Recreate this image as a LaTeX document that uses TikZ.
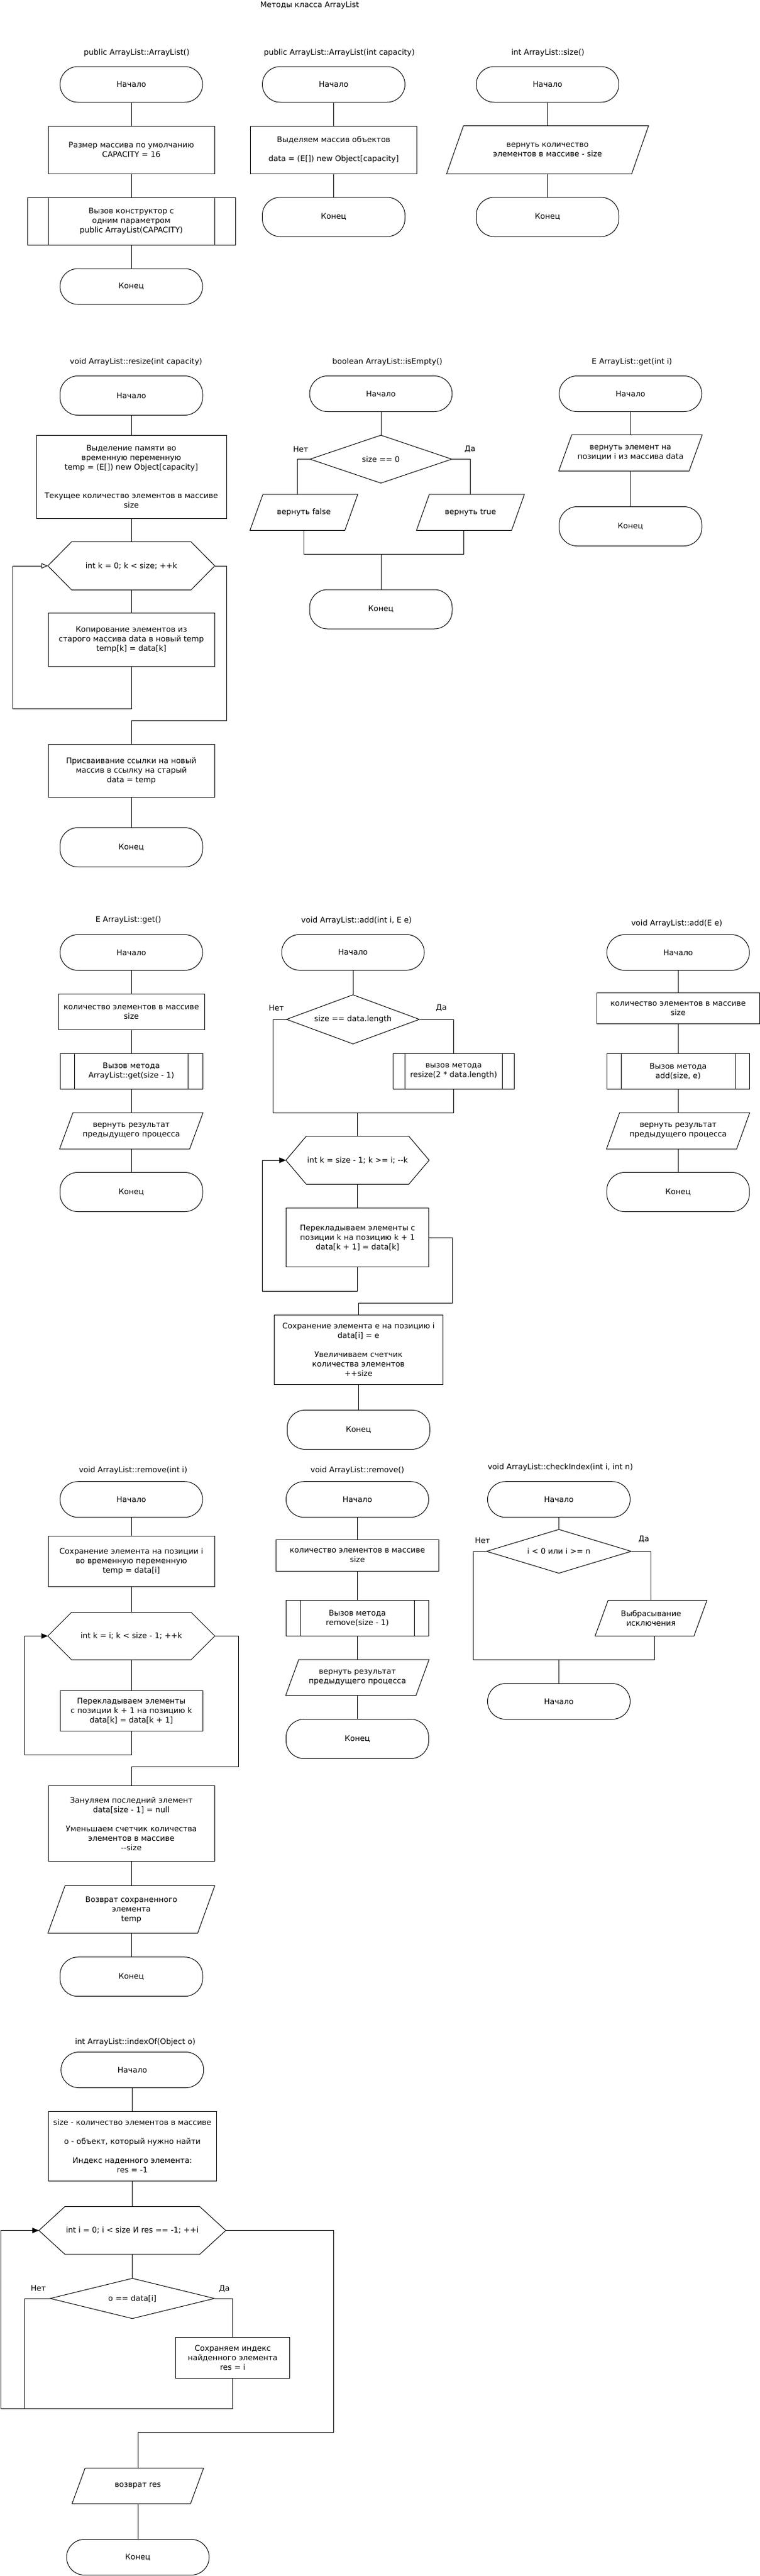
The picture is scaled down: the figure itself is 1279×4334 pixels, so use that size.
\documentclass[tikz,border=0pt]{standalone}
\usepackage{fontspec}
\setmainfont{DejaVu Sans}
\usetikzlibrary{shapes.geometric,arrows.meta}

% parallelogram and loop outlines round an invisible node
\newcommand{\drawio}[2]{\draw (#1.south west) -- ([xshift=#2]#1.north west) -- (#1.north east) -- ([xshift=-#2]#1.south east) -- cycle;}
\newcommand{\drawloop}[2]{\draw (#1.west) -- ([xshift=#2]#1.north west) -- ([xshift=-#2]#1.north east) -- (#1.east) -- ([xshift=-#2]#1.south east) -- ([xshift=#2]#1.south west) -- cycle;}

\tikzset{
  wh/.style 2 args={minimum width=#1pt, minimum height=#2pt},
  term/.style={draw, rectangle, rounded corners=30pt, wh={240}{60}, inner sep=0pt, align=center},
  proc/.style={draw, rectangle, inner sep=0pt, align=center},
  sub/.style={proc, path picture={\draw ([xshift=#1pt]path picture bounding box.north west) -- ([xshift=#1pt]path picture bounding box.south west) ([xshift=-#1pt]path picture bounding box.north east) -- ([xshift=-#1pt]path picture bounding box.south east);}},
  io/.style={rectangle, inner sep=0pt, align=center},
  cyc/.style={rectangle, inner sep=0pt, align=center},
  dec/.style={draw, diamond, aspect=3, inner sep=0pt, align=center},
  lbl/.style={inner sep=0pt},
  ttl/.style={inner sep=0pt},
  loopback/.style={-{Triangle[length=11pt,width=9pt]}},
  loopbackopen/.style={-{Triangle[open,length=11pt,width=9pt]}}
}

\begin{document}
\begin{tikzpicture}[x=1pt, y=-1pt, line width=1pt, font=\fontsize{13}{16}\selectfont]
  \path[use as bounding box, fill=white] (0,0) rectangle (1279,4334);

  \node[ttl] (head) at (521,9) {Методы класса ArrayList};

  % ArrayList()
  \node[ttl] (a1h) at (230,89) {public ArrayList::ArrayList()};
  \node[term] (a1s) at (221,142) {Начало};
  \node[proc, wh={280}{80}] (a1p) at (221,252) {Размер массива по умолчанию\\CAPACITY = 16};
  \node[sub=35, wh={350}{80}] (a1c) at (221,372) {Вызов конструктор с\\одним параметром\\public ArrayList(CAPACITY)};
  \node[term] (a1e) at (221,482) {Конец};
  \draw (a1s) -- (a1p) -- (a1c) -- (a1e);

  % ArrayList(int capacity)
  \node[ttl] (b1h) at (571,89) {public ArrayList::ArrayList(int capacity)};
  \node[term] (b1s) at (561.5,142) {Начало};
  \node[proc, wh={280}{80}] (b1p) at (561.5,252) {Выделяем массив объектов\\[16pt]data = (E[]) new Object[capacity]};
  \node[term, minimum height=66pt] (b1e) at (561.5,365) {Конец};
  \draw (b1s) -- (b1p) -- (b1e);

  % size()
  \node[ttl] (c1h) at (922,89) {int ArrayList::size()};
  \node[term] (c1s) at (921.5,142) {Начало};
  \node[io, wh={339}{80}] (c1o) at (921.5,252) {вернуть количество\\элементов в массиве - size};
  \drawio{c1o}{28.5}
  \node[term, minimum height=66pt] (c1e) at (921.5,365) {Конец};
  \draw (c1s) -- (c1o) -- (c1e);

  % resize(int capacity)
  \node[ttl] (r2h) at (229,609) {void ArrayList::resize(int capacity)};
  \node[term, minimum height=66pt] (r2s) at (221,665.5) {Начало};
  \node[proc, wh={320}{140}] (r2p) at (221,802) {Выделение памяти во\\временную переменную\\temp = (E[]) new Object[capacity]\\[32pt]Текущее количество элементов в массиве\\size};
  \node[cyc, wh={280}{80}] (r2l) at (221,952) {int k = 0; k < size; ++k};
  \drawloop{r2l}{40}
  \node[proc, wh={280}{90}] (r2b) at (221,1076.5) {Копирование элементов из\\старого массива data в новый temp\\temp[k] = data[k]};
  \node[proc, wh={280}{89}] (r2a) at (221,1297) {Присваивание ссылки на новый\\массив в ссылку на старый\\data = temp};
  \node[term, minimum height=66pt] (r2e) at (221,1425.5) {Конец};
  \draw (r2s) -- (r2p) -- (r2l) -- (r2b);
  \draw[loopbackopen] (r2b.south) -- ++(0,70) -- ++(-200,0) |- (r2l.west);
  \draw (r2l.east) -- ++(20,0) -- ++(0,260.4) -| (r2a.north);
  \draw (r2a) -- (r2e);

  % isEmpty()
  \node[ttl] (e2h) at (652,609) {boolean ArrayList::isEmpty()};
  \node[term] (e2s) at (641,662.5) {Начало};
  \node[dec, wh={239}{81}] (e2d) at (641,772.5) {size == 0};
  \node[lbl] (e2n) at (506,756) {Нет};
  \node[lbl] (e2y) at (791,756) {Да};
  \node[io, wh={180.4}{59.5}] (e2f) at (511.4,862) {вернуть false};
  \drawio{e2f}{21.7}
  \node[io, wh={180.5}{59.5}] (e2t) at (791.7,862) {вернуть true};
  \drawio{e2t}{21.5}
  \coordinate (e2m) at (641,932.4);
  \node[term, minimum height=66pt] (e2e) at (641,1025) {Конец};
  \draw (e2s) -- (e2d);
  \draw (e2d.west) -| ([xshift=-11]e2f.north);
  \draw (e2d.east) -| (e2t.north);
  \draw (e2f.south) -- ++(0,40.7) -| ([xshift=-11]e2t.south);
  \draw (e2m) -- (e2e);

  % get(int i)
  \node[ttl] (g2h) at (1063.5,609) {E ArrayList::get(int i)};
  \node[term] (g2s) at (1061,662.5) {Начало};
  \node[io, wh={240.5}{60}] (g2o) at (1061,762) {вернуть элемент на\\позиции i из массива data};
  \drawio{g2o}{22}
  \node[term, minimum height=66pt] (g2e) at (1061,885.5) {Конец};
  \draw (g2s) -- (g2o) -- (g2e);

  % get()
  \node[ttl] (g3h) at (216,1548) {E ArrayList::get()};
  \node[term] (g3s) at (221,1602.5) {Начало};
  \node[proc, wh={246}{60}] (g3p) at (221,1702.5) {количество элементов в массиве\\size};
  \node[sub=24.5, wh={240}{60}] (g3c) at (221,1802.5) {Вызов метода\\ArrayList::get(size - 1)};
  \node[io, wh={240.4}{60}] (g3o) at (221,1902.5) {вернуть результат\\предыдущего процесса};
  \drawio{g3o}{22.5}
  \node[term, minimum height=66pt] (g3e) at (221,2005.5) {Конец};
  \draw (g3s) -- (g3p) -- (g3c) -- (g3o) -- (g3e);

  % add(int i, E e)
  \node[ttl] (d3h) at (600,1548.5) {void ArrayList::add(int i, E e)};
  \node[term] (d3s) at (594,1602.3) {Начало};
  \node[dec, wh={224}{83}] (d3d) at (594,1715) {size == data.length};
  \node[lbl] (d3n) at (465,1695.5) {Нет};
  \node[lbl] (d3y) at (742.7,1695.5) {Да};
  \node[sub=20, wh={203.7}{60}] (d3r) at (763.5,1802.5) {вызов метода\\resize(2 * data.length)};
  \coordinate (d3m) at (601.7,1872.2);
  \node[cyc, wh={240}{80}] (d3l) at (601.7,1952) {int k = size - 1; k >= i; -{}-k};
  \drawloop{d3l}{34.3}
  \node[proc, wh={240.4}{98.7}] (d3b) at (601.7,2082.3) {Перекладываем элементы с\\позиции k на позицию k + 1\\data[k + 1] = data[k]};
  \node[proc, wh={284}{116.8}] (d3a) at (603.3,2270.7) {Сохранение элемента e на позицию i\\data[i] = e\\[16pt]Увеличиваем счетчик\\количества элементов\\++size};
  \node[term, minimum height=66pt] (d3e) at (603.3,2405.4) {Конец};
  \draw (d3s) -- (d3d);
  \draw (d3d.west) -- ++(-22.4,0) |- (d3r.south |- d3m);
  \draw (d3d.east) -| (d3r.north);
  \draw (d3r.south) -- (d3r.south |- d3m);
  \draw (d3m) -- (d3l) -- (d3b);
  \draw[loopback] (d3b.south) -- ++(0,40) -- ++(-160.4,0) |- (d3l.west);
  \draw (d3b.east) -- ++(39.3,0) -- ++(0,109.7) -| (d3a.north);
  \draw (d3a) -- (d3e);

  % add(E e)
  \node[ttl] (f3h) at (1138.8,1553.4) {void ArrayList::add(E e)};
  \node[term] (f3s) at (1141.2,1602.5) {Начало};
  \node[proc, wh={273.8}{52.2}] (f3p) at (1141.2,1696.6) {количество элементов в массиве\\size};
  \node[sub=24, wh={240}{60}] (f3c) at (1141.2,1802.5) {Вызов метода\\add(size, e)};
  \node[io, wh={240}{60}] (f3o) at (1141.2,1902.5) {вернуть результат\\предыдущего процесса};
  \drawio{f3o}{22}
  \node[term, minimum height=66pt] (f3e) at (1141.2,2005.5) {Конец};
  \draw (f3s) -- (f3p) -- (f3c) -- (f3o) -- (f3e);

  % remove(int i)
  \node[ttl] (m4h) at (224,2473.4) {void ArrayList::remove(int i)};
  \node[term] (m4s) at (221,2522.7) {Начало};
  \node[proc, wh={280}{85}] (m4p) at (221,2626.9) {Сохранение элемента на позиции i\\во временную переменную\\temp = data[i]};
  \node[cyc, wh={280}{79}] (m4l) at (221,2752.5) {int k = i; k < size - 1; ++k};
  \drawloop{m4l}{40}
  \node[proc, wh={240}{68.7}] (m4b) at (221,2878.6) {Перекладываем элементы\\с позиции k + 1 на позицию k\\data[k] = data[k + 1]};
  \node[proc, wh={280}{127.4}] (m4a) at (221,3068.2) {Зануляем последний элемент\\data[size - 1] = null\\[16pt]Уменьшаем счетчик количества\\элементов в массиве\\-{}-size};
  \node[io, wh={280}{79.2}] (m4o) at (221,3212.6) {Возврат сохраненного\\элемента\\temp};
  \drawio{m4o}{29}
  \node[term, minimum height=66pt] (m4e) at (221,3325.7) {Конец};
  \draw (m4s) -- (m4p) -- (m4l) -- (m4b);
  \draw[loopback] (m4b.south) -- ++(0,38.7) -- ++(-180,0) |- (m4l.west);
  \draw (m4l.east) -- ++(40,0) -- ++(0,219.8) -| (m4a.north);
  \draw (m4a) -- (m4o) -- (m4e);

  % remove()
  \node[ttl] (n4h) at (601.4,2473.4) {void ArrayList::remove()};
  \node[term] (n4s) at (601.4,2522.7) {Начало};
  \node[proc, wh={273.7}{52.8}] (n4p) at (601.4,2616.6) {количество элементов в массиве\\size};
  \node[sub=24, wh={240.3}{59.3}] (n4c) at (601.4,2722.5) {Вызов метода\\remove(size - 1)};
  \node[io, wh={240.3}{59.3}] (n4o) at (601.4,2822.3) {вернуть результат\\предыдущего процесса};
  \drawio{n4o}{22}
  \node[term, minimum height=66pt] (n4e) at (601.4,2925.6) {Конец};
  \draw (n4s) -- (n4p) -- (n4c) -- (n4o) -- (n4e);

  % checkIndex(int i, int n)
  \node[ttl] (k4h) at (943,2468.7) {void ArrayList::checkIndex(int i, int n)};
  \node[term] (k4s) at (940.5,2522.7) {Начало};
  \node[dec, wh={244}{74}] (k4d) at (940.5,2610) {i < 0 или i >= n};
  \node[lbl] (k4n) at (812,2591.4) {Нет};
  \node[lbl] (k4y) at (1083.4,2589.6) {Да};
  \node[io, wh={187.4}{59.3}] (k4o) at (1095.6,2722.5) {Выбрасывание\\исключения};
  \drawio{k4o}{22}
  \coordinate (k4m) at (940.5,2792.1);
  \node[term] (k4e) at (940.5,2862.5) {Начало};
  \draw (k4s) -- (k4d);
  \draw (k4d.west) -- ++(-21.2,0) |- (k4m) -| ([xshift=6]k4o.south);
  \draw (k4d.east) -| (k4o.north);
  \draw (k4m) -- (k4e);

  % indexOf(Object o)
  \node[ttl] (i5h) at (227.6,3435.4) {int ArrayList::indexOf(Object o)};
  \node[term] (i5s) at (222.7,3482.5) {Начало};
  \node[proc, wh={283}{116.2}] (i5p) at (222.7,3610.9) {size - количество элементов в массиве\\[16pt]o - объект, который нужно найти\\[16pt]Индекс наденного элемента:\\res = -1};
  \node[cyc, wh={313.5}{79.7}] (i5l) at (222.7,3752.6) {int i = 0; i < size И res == -1; ++i};
  \drawloop{i5l}{44}
  \node[dec, wh={277}{68}] (i5d) at (222.7,3867) {o == data[i]};
  \node[lbl] (i5n) at (64.5,3850.3) {Нет};
  \node[lbl] (i5y) at (377.6,3850.3) {Да};
  \node[proc, wh={192.3}{68.8}] (i5b) at (391.6,3966.8) {Сохраняем индекс\\найденного элемента\\res = i};
  \coordinate (i5m) at (41.2,4052.3);
  \node[io, wh={220.4}{59}] (i5o) at (232,4182.2) {возврат res};
  \drawio{i5o}{22}
  \node[term] (i5e) at (232,4302.4) {Конец};
  \draw (i5s) -- (i5p) -- (i5l) -- (i5d);
  \draw (i5d.west) -| (i5m);
  \draw (i5d.east) -| (i5b.north);
  \draw[loopback] (i5b.south) |- (i5m) -- ++(-40,0) |- (i5l.west);
  \draw (i5l.east) -- ++(182,0) -- ++(0,339.9) -| (i5o.north);
  \draw (i5o) -- (i5e);
\end{tikzpicture}
\end{document}
